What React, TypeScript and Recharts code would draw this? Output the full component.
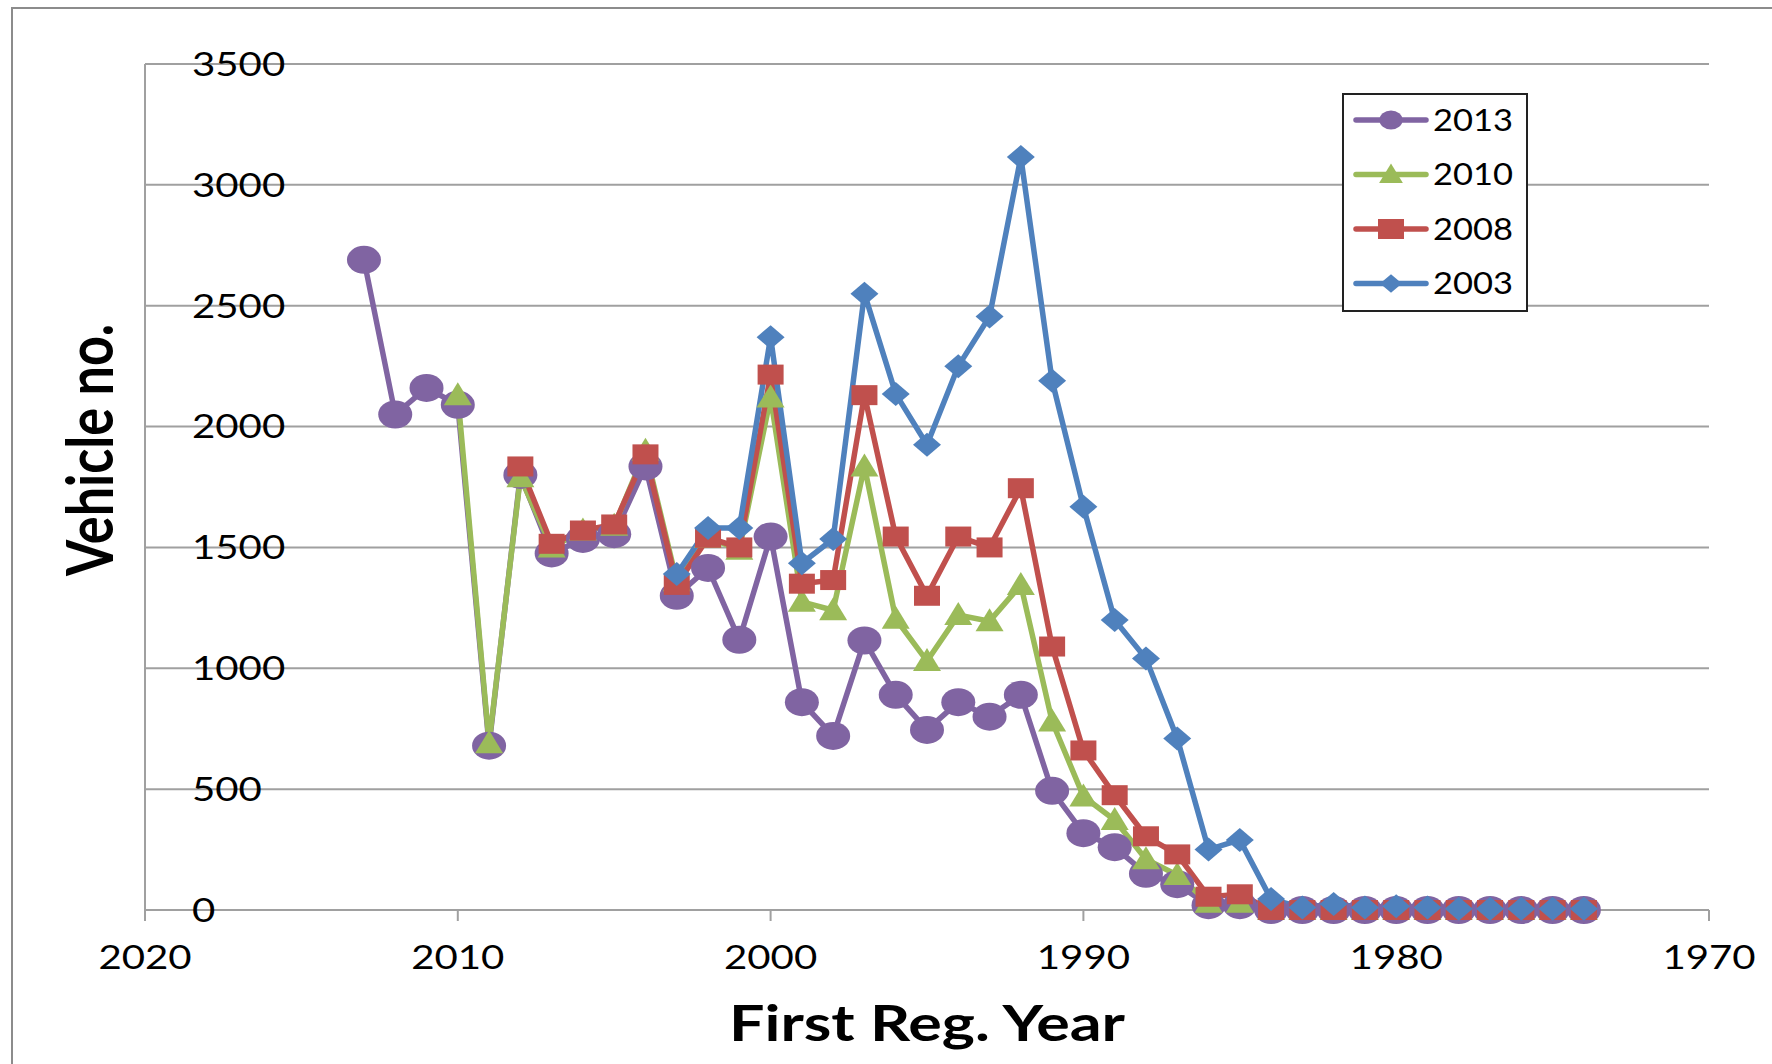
import React from "react";
import { LineChart, Line, XAxis, YAxis, CartesianGrid, Legend, Label } from "recharts";

// first registration year (x), newest to oldest
const years = [
  2013, 2012, 2011, 2010, 2009, 2008, 2007, 2006, 2005, 2004,
  2003, 2002, 2001, 2000, 1999, 1998, 1997, 1996, 1995, 1994,
  1993, 1992, 1991, 1990, 1989, 1988, 1987, 1986, 1985, 1984,
  1983, 1982, 1981, 1980, 1979, 1978, 1977, 1976, 1975, 1974,
];

const v2013 = [
  2690, 2050, 2160, 2090, 680, 1800, 1475, 1535, 1555, 1835,
  1300, 1415, 1118, 1545, 860, 720, 1115, 890, 745, 860,
  800, 890, 493, 318, 260, 150, 107, 20, 20, 0,
  0, 0, 0, 0, 0, 0, 0, 0, 0, 0,
];

const v2010 = [
  null, null, null, 2130, 690, 1790, 1500, 1570, 1590, 1900,
  1360, 1540, 1490, 2120, 1275, 1240, 1835, 1205, 1030, 1220,
  1195, 1345, 780, 470, 372, 210, 145, 30, 30, 0,
  0, 0, 0, 0, 0, 0, 0, 0, 0, 0,
];

const v2008 = [
  null, null, null, null, null, 1835, 1515, 1570, 1595, 1885,
  1345, 1540, 1500, 2215, 1350, 1365, 2130, 1545, 1300, 1545,
  1500, 1745, 1090, 660, 475, 305, 230, 55, 65, 0,
  0, 0, 0, 0, 0, 0, 0, 0, 0, 0,
];

const v2003 = [
  null, null, null, null, null, null, null, null, null, null,
  1390, 1580, 1580, 2370, 1435, 1535, 2550, 2135, 1925, 2250,
  2455, 3115, 2190, 1668, 1200, 1040, 710, 250, 290, 45,
  10, 25, 10, 15, 10, 5, 5, 5, 5, 5,
];

const yTicks = [0, 500, 1000, 1500, 2000, 2500, 3000, 3500];
const xTicks = [2020, 2010, 2000, 1990, 1980, 1970];

const series = [
  { key: "s2013", name: "2013", color: "#8064A2", shape: "circle" },
  { key: "s2010", name: "2010", color: "#9BBB59", shape: "triangle" },
  { key: "s2008", name: "2008", color: "#C0504D", shape: "square" },
  { key: "s2003", name: "2003", color: "#4F81BD", shape: "diamond" },
];

const legendScale: Record<string, number> = { circle: 0.68, triangle: 0.85, square: 1, diamond: 0.78 };

const data = years.map((year, i) => ({
  year,
  s2013: v2013[i],
  s2010: v2010[i],
  s2008: v2008[i],
  s2003: v2003[i],
}));

const FONT = "Lato, 'Open Sans', sans-serif";
const GRID = "#a0a0a0";
const LINE_W = 5.5;

function marker(shape: string, cx: number, cy: number, color: string, k = 1) {
  switch (shape) {
    case "circle":
      return <ellipse cx={cx} cy={cy} rx={17 * k} ry={14 * k} fill={color} />;
    case "triangle":
      return (
        <polygon
          points={`${cx},${cy - 13 * k} ${cx + 14 * k},${cy + 10 * k} ${cx - 14 * k},${cy + 10 * k}`}
          fill={color}
        />
      );
    case "square":
      return <rect x={cx - 13 * k} y={cy - 10 * k} width={26 * k} height={20 * k} fill={color} />;
    default:
      return (
        <polygon
          points={`${cx},${cy - 12 * k} ${cx + 14 * k},${cy} ${cx},${cy + 12 * k} ${cx - 14 * k},${cy}`}
          fill={color}
        />
      );
  }
}

const YTick = (p: any) => {
  const label = String(p.payload.value);
  return (
    <text
      x={p.x + 47}
      y={p.y}
      dy="0.36em"
      textAnchor="start"
      fontFamily={FONT}
      fontSize={33}
      fill="#000"
      textLength={label.length * 23.3}
      lengthAdjust="spacingAndGlyphs"
    >
      {label}
    </text>
  );
};

const XTick = (p: any) => {
  const label = String(p.payload.value);
  return (
    <text
      x={p.x}
      y={p.y}
      dy="0.71em"
      textAnchor="middle"
      fontFamily={FONT}
      fontSize={33}
      fill="#000"
      textLength={label.length * 23.3}
      lengthAdjust="spacingAndGlyphs"
    >
      {label}
    </text>
  );
};

const XTitle = (p: any) => {
  const vb = p.viewBox;
  return (
    <text
      x={vb.x + vb.width / 2}
      y={vb.y + 131}
      textAnchor="middle"
      fontFamily={FONT}
      fontWeight="bold"
      fontSize={50}
      fill="#000"
      textLength={396}
      lengthAdjust="spacingAndGlyphs"
    >
      First Reg. Year
    </text>
  );
};

const YTitle = (p: any) => {
  const vb = p.viewBox;
  const cy = vb.y + vb.height / 2 - 37;
  return (
    <text
      transform={`translate(113 ${cy}) scale(1.25 1) rotate(-90)`}
      x={0}
      y={0}
      textAnchor="middle"
      fontFamily={FONT}
      fontWeight="bold"
      fontSize={52}
      fill="#000"
    >
      Vehicle no.
    </text>
  );
};

// legend keeps the series order (2013 on top)
const LegendBox = () => (
  <div
    style={{
      boxSizing: "border-box",
      width: 186,
      height: 219,
      border: "2px solid #222",
      background: "#fff",
    }}
  >
    <svg width={182} height={215}>
      {series.map((s, i) => {
        const cy = 25 + i * 54.5;
        return (
          <g key={s.key}>
            <line x1={12} x2={82} y1={cy} y2={cy} stroke={s.color} strokeWidth={LINE_W} strokeLinecap="round" />
            {marker(s.shape, 47, cy, s.color, legendScale[s.shape])}
            <text
              x={89}
              y={cy}
              dy="0.36em"
              fontFamily={FONT}
              fontSize={30}
              fill="#000"
              textLength={80}
              lengthAdjust="spacingAndGlyphs"
            >
              {s.name}
            </text>
          </g>
        );
      })}
    </svg>
  </div>
);

export default function App() {
  return (
    <div
      style={{
        position: "absolute",
        left: 0,
        top: 0,
        width: 1772,
        height: 1064,
        overflow: "hidden",
        background: "#fff",
      }}
    >
      <div
        style={{
          position: "absolute",
          left: 11,
          top: 7,
          width: 1820,
          height: 1120,
          border: "2px solid #8c8c8c",
        }}
      />
      <LineChart width={1772} height={1064} data={data} margin={{ top: 64, right: 63, left: 0, bottom: 0 }}>
        <CartesianGrid vertical={false} stroke={GRID} strokeWidth={2} />
        <XAxis
          dataKey="year"
          type="number"
          domain={[1970, 2020]}
          reversed
          ticks={xTicks}
          interval={0}
          height={154}
          tickSize={11}
          tickMargin={25}
          axisLine={{ stroke: GRID, strokeWidth: 2 }}
          tickLine={{ stroke: GRID, strokeWidth: 2 }}
          tick={XTick}
        >
          <Label content={XTitle} />
        </XAxis>
        <YAxis
          type="number"
          domain={[0, 3500]}
          ticks={yTicks}
          interval={0}
          width={145}
          tickSize={0}
          tickMargin={0}
          axisLine={{ stroke: GRID, strokeWidth: 2 }}
          tickLine={false}
          tick={YTick}
        >
          <Label content={YTitle} />
        </YAxis>
        <Legend
          layout="vertical"
          align="center"
          verticalAlign="middle"
          width={186}
          height={219}
          content={LegendBox}
          wrapperStyle={{ left: 1342, top: 93, width: 186, height: 219 }}
        />
        {series.map((s) => (
          <Line
            key={s.key}
            type="linear"
            dataKey={s.key}
            name={s.name}
            stroke={s.color}
            strokeWidth={LINE_W}
            connectNulls={false}
            activeDot={false}
            isAnimationActive={false}
            dot={(p: any) =>
              p.value == null || p.cy == null ? (
                <g key={`${s.key}-${p.index}`} />
              ) : (
                <g key={`${s.key}-${p.index}`}>{marker(s.shape, p.cx, p.cy, s.color)}</g>
              )
            }
          />
        ))}
      </LineChart>
    </div>
  );
}
